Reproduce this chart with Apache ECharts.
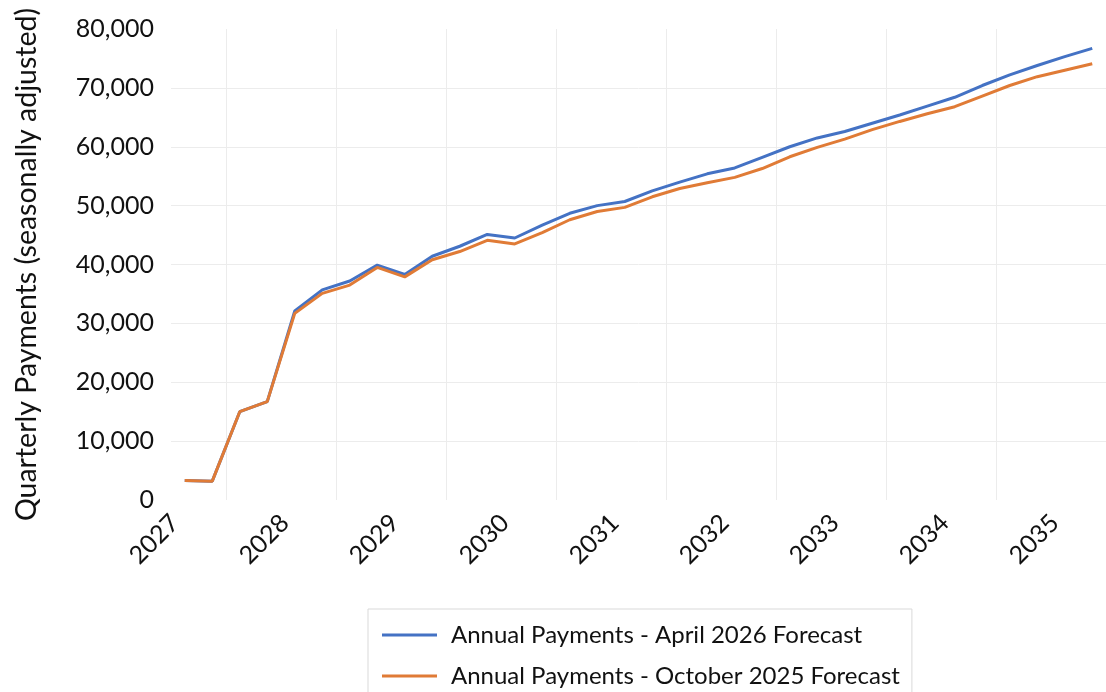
<!DOCTYPE html>
<html>
<head>
<meta charset="utf-8">
<script src="https://cdn.jsdelivr.net/npm/echarts@6/dist/echarts.min.js"></script>
<style>
  html, body { margin: 0; padding: 0; background: #fff; }
  #chart { width: 1106px; height: 692px; }
</style>
</head>
<body>
<div id="chart"></div>
<script>
// quarterly categories, 2027 Q1 .. 2035 Q2
var quarters = [
  '2027 Q1', '2027 Q2', '2027 Q3', '2027 Q4',
  '2028 Q1', '2028 Q2', '2028 Q3', '2028 Q4',
  '2029 Q1', '2029 Q2', '2029 Q3', '2029 Q4',
  '2030 Q1', '2030 Q2', '2030 Q3', '2030 Q4',
  '2031 Q1', '2031 Q2', '2031 Q3', '2031 Q4',
  '2032 Q1', '2032 Q2', '2032 Q3', '2032 Q4',
  '2033 Q1', '2033 Q2', '2033 Q3', '2033 Q4',
  '2034 Q1', '2034 Q2', '2034 Q3', '2034 Q4',
  '2035 Q1', '2035 Q2'
];

var april2026 = [
  3300, 3200, 15000, 16700,
  32100, 35700, 37200, 39900,
  38300, 41400, 43100, 45100,
  44500, 46700, 48700, 50000,
  50700, 52500, 54000, 55400,
  56400, 58200, 60000, 61500,
  62600, 64000, 65400, 66900,
  68400, 70400, 72200, 73800,
  75300, 76700
];

var october2025 = [
  3300, 3200, 15000, 16700,
  31700, 35100, 36500, 39500,
  37900, 40800, 42200, 44100,
  43500, 45400, 47600, 49000,
  49700, 51500, 52900, 53900,
  54800, 56300, 58300, 59900,
  61300, 62900, 64300, 65600,
  66800, 68600, 70400, 71900,
  73000, 74100
];

var seriesNames = [
  'Annual Payments - April 2026 Forecast',
  'Annual Payments - October 2025 Forecast'
];

var FONT = 'Lato';

var myChart = echarts.init(document.getElementById('chart'));
myChart.setOption({
  animation: false,
  textStyle: { fontFamily: FONT },
  grid: {
    left: 171,
    right: -5,
    top: 29,
    bottom: 192
  },
  legend: {
    data: seriesNames,
    orient: 'vertical',
    left: 368,
    top: 609,
    height: 140,
    icon: 'rect',
    itemWidth: 55,
    itemHeight: 3,
    itemGap: 11,
    padding: [11, 12, 30, 14],
    borderColor: '#d9d9d9',
    borderWidth: 1,
    textStyle: {
      fontFamily: FONT,
      fontSize: 24,
      color: '#111',
      lineHeight: 30,
      padding: [0, 0, 0, 9]
    }
  },
  xAxis: {
    type: 'category',
    data: quarters,
    boundaryGap: true,
    axisLine: { show: false },
    axisTick: { show: false },
    axisLabel: {
      interval: 3,
      rotate: 45,
      margin: 9,
      padding: [0, 14, 0, 0],
      fontFamily: FONT,
      fontSize: 25,
      color: '#111',
      formatter: function (v) { return v.split(' ')[0]; }
    },
    splitLine: {
      show: true,
      interval: function (i) { return i % 4 === 2; },
      lineStyle: { color: '#ececec', width: 1 }
    }
  },
  yAxis: {
    type: 'value',
    min: 0,
    max: 80000,
    interval: 10000,
    name: 'Quarterly Payments (seasonally adjusted)',
    nameLocation: 'middle',
    nameGap: 130,
    nameTextStyle: { fontFamily: FONT, fontSize: 28.5, color: '#111' },
    axisLine: { show: false },
    axisTick: { show: false },
    axisLabel: {
      margin: 17,
      fontFamily: FONT,
      fontSize: 25,
      color: '#111',
      formatter: function (v) { return v.toLocaleString('en-US'); }
    },
    splitLine: {
      show: true,
      showMinLine: false,
      showMaxLine: false,
      lineStyle: { color: '#ececec', width: 1 }
    }
  },
  series: [
    {
      name: seriesNames[0],
      type: 'line',
      data: april2026,
      symbol: 'none',
      color: '#4472c4',
      lineStyle: { color: '#4472c4', width: 3 }
    },
    {
      name: seriesNames[1],
      type: 'line',
      data: october2025,
      symbol: 'none',
      color: '#e07b36',
      lineStyle: { color: '#e07b36', width: 3 }
    }
  ]
});
</script>
</body>
</html>
